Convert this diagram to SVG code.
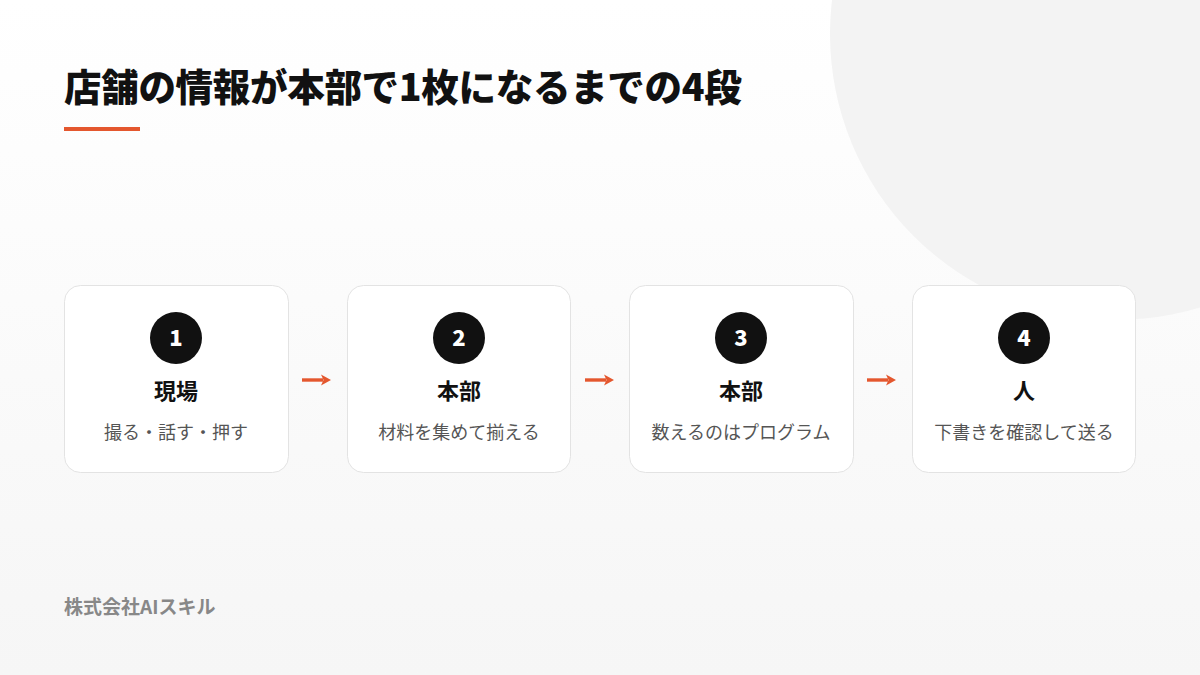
<svg xmlns="http://www.w3.org/2000/svg" width="1200" height="675" viewBox="0 0 1200 675">
<defs>
<linearGradient id="bg" x1="0" y1="0" x2="0" y2="1">
<stop offset="0" stop-color="#ffffff"/>
<stop offset="1" stop-color="#f6f6f6"/>
</linearGradient>
<marker id="ah" viewBox="0 0 10 12" refX="2" refY="6" markerWidth="10" markerHeight="12" orient="auto" markerUnits="userSpaceOnUse">
<path d="M0,0.5 L10,6 L0,11.5 L2.5,6 Z" fill="#e4572e"/>
</marker>
<style>
.card{fill:#ffffff;stroke:#e3e3e3;stroke-width:1}
.badge{fill:#111111}
.num{font-family:"Noto Sans CJK JP","Noto Sans",sans-serif;font-weight:900;font-size:22px;fill:#ffffff;text-anchor:middle}
.ttl{font-family:"Noto Sans CJK JP",sans-serif;font-weight:700;font-size:22px;fill:#111111;text-anchor:middle}
.sub{font-family:"Noto Sans CJK JP",sans-serif;font-weight:400;font-size:18px;fill:#555555;text-anchor:middle}
.conn{stroke:#e4572e;stroke-width:3.4;fill:none;stroke-linecap:butt}
</style>
</defs>
<rect x="0" y="0" width="1200" height="675" fill="url(#bg)"/>
<circle cx="1116" cy="34" r="286" fill="#f3f3f3"/>
<text x="64" y="101" font-family="'Noto Sans CJK JP',sans-serif" font-weight="900" font-size="37.5" fill="#111111" letter-spacing="-0.3">店舗の情報が本部で1枚になるまでの4段</text>
<rect x="64" y="127" width="76" height="4" fill="#e4572e"/>
<g id="connectors">
<path class="conn" d="M302,380 L323,380" marker-end="url(#ah)"/>
<path class="conn" d="M585,380 L606,380" marker-end="url(#ah)"/>
<path class="conn" d="M867,380 L888,380" marker-end="url(#ah)"/>
</g>
<g id="step1">
<rect class="card" x="64.5" y="285.5" width="224" height="187" rx="16"/>
<circle class="badge" cx="176" cy="338" r="26"/>
<text class="num" x="176" y="346">1</text>
<text class="ttl" x="176" y="399">現場</text>
<text class="sub" x="176" y="439">撮る・話す・押す</text>
</g>
<g id="step2">
<rect class="card" x="347.5" y="285.5" width="223" height="187" rx="16"/>
<circle class="badge" cx="459" cy="338" r="26"/>
<text class="num" x="459" y="346">2</text>
<text class="ttl" x="459" y="399">本部</text>
<text class="sub" x="459" y="439">材料を集めて揃える</text>
</g>
<g id="step3">
<rect class="card" x="629.5" y="285.5" width="224" height="187" rx="16"/>
<circle class="badge" cx="741" cy="338" r="26"/>
<text class="num" x="741" y="346">3</text>
<text class="ttl" x="741" y="399">本部</text>
<text class="sub" x="741" y="439">数えるのはプログラム</text>
</g>
<g id="step4">
<rect class="card" x="912.5" y="285.5" width="223" height="187" rx="16"/>
<circle class="badge" cx="1024" cy="338" r="26"/>
<text class="num" x="1024" y="346">4</text>
<text class="ttl" x="1024" y="399">人</text>
<text class="sub" x="1024" y="439">下書きを確認して送る</text>
</g>
<text x="64" y="614" font-family="'Noto Sans CJK JP',sans-serif" font-weight="700" font-size="19" fill="#888888">株式会社AIスキル</text>
</svg>
